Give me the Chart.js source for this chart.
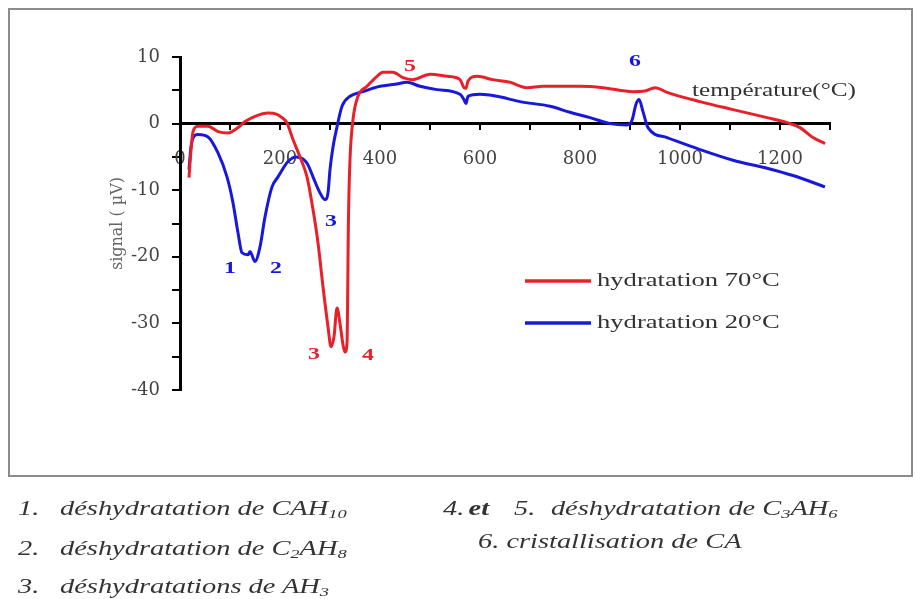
<!DOCTYPE html>
<html><head><meta charset="utf-8">
<script src="https://cdn.jsdelivr.net/npm/chart.js@4.4.0/dist/chart.umd.min.js"></script>
<style>
html,body{margin:0;padding:0;background:#fff;width:915px;height:599px;overflow:hidden;}
#frame{position:absolute;left:8px;top:8px;width:905px;height:469px;border:2px solid #8c8c8c;box-sizing:border-box;}
#c{position:absolute;left:0;top:0;}
.cap{position:absolute;font:italic 20px "Liberation Serif",serif;color:#333;white-space:nowrap;transform:scaleX(1.42);transform-origin:0 50%;line-height:22px;}
.cap sub{font-size:0.65em;vertical-align:-0.25em;line-height:0;}
.n{display:inline-block;}
</style></head>
<body>
<div id="frame"></div>
<canvas id="c" width="915" height="599"></canvas>
<div class="cap" style="left:18px;top:497px;"><span class="n" style="width:29.6px">1.</span>déshydratation de CAH<sub>10</sub></div>
<div class="cap" style="left:18px;top:537px;"><span class="n" style="width:29.6px">2.</span>déshydratation de C<sub>2</sub>AH<sub>8</sub></div>
<div class="cap" style="left:18px;top:575px;"><span class="n" style="width:29.6px">3.</span>déshydratations de AH<sub>3</sub></div>
<div class="cap" style="left:443px;top:497px;"><span class="n" style="width:18px">4.</span><span class="n" style="width:32px;font-weight:bold">et</span><span class="n" style="width:26px">5.</span>déshydratation de C<sub>3</sub>AH<sub>6</sub></div>
<div class="cap" style="left:478px;top:530px;">6. cristallisation de CA</div>
<script>
// ---- data ----
const temps70 = [18, 22, 26, 36, 56, 76, 96, 116, 130, 150, 176, 194, 204, 214, 226, 240, 254, 266, 276, 286, 296, 302, 308, 314, 320, 326, 330, 334, 337, 340, 346, 356, 374, 394, 406, 426, 446, 466, 500, 534, 560, 568, 572, 576, 594, 626, 660, 694, 726, 800, 846, 906, 930, 950, 974, 1040, 1106, 1174, 1214, 1240, 1266, 1290];
const sig70   = [-8.1, -4.0, -1.2, -0.4, -0.4, -1.2, -1.4, -0.6, 0.3, 1.1, 1.6, 1.4, 0.9, 0.1, -2.4, -5.0, -8.0, -12.9, -17.9, -24.5, -30.5, -33.5, -32.0, -27.7, -30.0, -33.2, -34.3, -33.0, -14.0, -5.4, 0.6, 4.1, 5.6, 7.1, 7.7, 7.7, 6.9, 6.6, 7.4, 7.1, 6.6, 5.4, 5.3, 6.4, 7.1, 6.6, 6.2, 5.4, 5.6, 5.6, 5.4, 4.8, 4.9, 5.4, 4.7, 3.3, 2.1, 0.9, 0.15, -0.6, -2.1, -3.0];
const temps20 = [18, 22, 28, 36, 56, 76, 94, 106, 116, 124, 136, 140, 150, 160, 170, 184, 196, 216, 232, 246, 256, 266, 280, 290, 296, 300, 306, 314, 324, 340, 366, 400, 430, 454, 480, 514, 560, 568, 572, 576, 600, 634, 680, 740, 780, 820, 860, 894, 904, 912, 918, 926, 936, 974, 1040, 1106, 1174, 1226, 1290];
const sig20   = [-6.9, -3.5, -1.9, -1.65, -2.0, -4.4, -8.0, -11.9, -16.4, -19.4, -19.7, -19.2, -20.7, -18.5, -14.0, -9.5, -8.0, -5.7, -5.0, -5.3, -6.2, -8.0, -10.4, -11.4, -10.4, -6.9, -3.5, -0.5, 2.6, 4.1, 4.8, 5.6, 5.9, 6.2, 5.6, 5.1, 4.4, 3.6, 3.0, 4.1, 4.4, 4.1, 3.3, 2.6, 1.7, 0.9, 0.0, -0.2, 0.5, 2.9, 3.6, 1.8, -0.6, -2.1, -3.9, -5.5, -6.7, -7.8, -9.5];
const seriesLabels = ['hydratation 70°C', 'hydratation 20°C'];
const xTickLabels = [0, 200, 400, 600, 800, 1000, 1200];
const yTickLabels = [10, 0, -10, -20, -30, -40];
const xAxisTitle = 'température(°C)';
const yAxisTitle = 'signal ( µV)';
// peak markers: label, series index, temperature, signal where the number sits
const peakNames  = ['1', '2', '3', '3', '4', '5', '6'];
const peakSeries = [1, 1, 1, 0, 0, 0, 1];
const peakTemps  = [100, 192, 302, 268, 376, 460, 910];
const peakSigs   = [-21.7, -21.7, -14.7, -34.7, -34.9, 8.6, 9.3];
const xTitleAnchor = [1024, 4.8];

const colors = ['#e8202a', '#1818dc'];
const stretch = 1.4;

function sText(ctx, str, px, py, font, color, align) {
  ctx.save();
  ctx.font = font; ctx.fillStyle = color; ctx.textBaseline = 'middle';
  ctx.textAlign = align || 'left';
  ctx.translate(px, py); ctx.scale(stretch, 1);
  ctx.fillText(str, 0, 0);
  ctx.restore();
}

const textPlugin = {
  id: 'texts',
  afterDatasetsDraw(chart) {
    const ctx = chart.ctx, xs = chart.scales.x, ys = chart.scales.y;
    peakNames.forEach((n, i) => {
      sText(ctx, n, xs.getPixelForValue(peakTemps[i]), ys.getPixelForValue(peakSigs[i]),
        'bold 17px "Liberation Serif"', colors[peakSeries[i]], 'center');
    });
    sText(ctx, xAxisTitle, xs.getPixelForValue(xTitleAnchor[0]), ys.getPixelForValue(xTitleAnchor[1]),
      '18px "Liberation Serif"', '#333', 'left');
    // legend
    chart.data.datasets.forEach((ds, i) => {
      const yy = 281 + i * 42;
      ctx.save();
      ctx.strokeStyle = ds.borderColor; ctx.lineWidth = 3.5;
      ctx.beginPath(); ctx.moveTo(525, yy); ctx.lineTo(591, yy); ctx.stroke();
      ctx.restore();
      sText(ctx, ds.label, 597, yy, '19px "Liberation Serif"', '#333', 'left');
    });
  }
};

const mk = (ts, vs) => ts.map((t, i) => ({x: t, y: vs[i]}));

new Chart(document.getElementById('c'), {
  type: 'scatter',
  data: {
    datasets: [
      {label: seriesLabels[0], data: mk(temps70, sig70), borderColor: colors[0], backgroundColor: colors[0]},
      {label: seriesLabels[1], data: mk(temps20, sig20), borderColor: colors[1], backgroundColor: colors[1]}
    ]
  },
  options: {
    responsive: false,
    animation: false,
    showLine: true,
    elements: {
      point: {radius: 0, hoverRadius: 0},
      line: {borderWidth: 3, cubicInterpolationMode: 'monotone', fill: false}
    },
    layout: {padding: {left: 100, right: 85, top: 57, bottom: 209}},
    plugins: {legend: {display: false}, tooltip: {enabled: false}},
    scales: {
      x: {
        type: 'linear', position: {y: 0}, min: 0, max: 1300,
        ticks: {stepSize: 100, autoSkip: false, maxRotation: 0, padding: 20,
          color: '#444', font: {family: '"DejaVu Serif"', size: 18},
          callback: v => xTickLabels.includes(v) ? String(v) : ''},
        grid: {drawOnChartArea: false, drawTicks: true, tickLength: 5, color: '#000', lineWidth: 2},
        border: {display: true, color: '#000', width: 3}
      },
      y: {
        type: 'linear', position: 'left', min: -40, max: 10,
        afterFit: s => { s.width = 80; },
        ticks: {stepSize: 5, autoSkip: false, padding: 12,
          color: '#444', font: {family: '"DejaVu Serif"', size: 18},
          callback: v => yTickLabels.includes(v) ? String(v) : ''},
        grid: {drawOnChartArea: false, drawTicks: true, tickLength: 8, color: '#000', lineWidth: 2},
        border: {display: true, color: '#000', width: 3},
        title: {display: true, text: yAxisTitle, color: '#666',
          font: {family: '"DejaVu Serif"', size: 16}, padding: {top: 8, bottom: 0}}
      }
    }
  },
  plugins: [textPlugin]
});
</script>
</body></html>
